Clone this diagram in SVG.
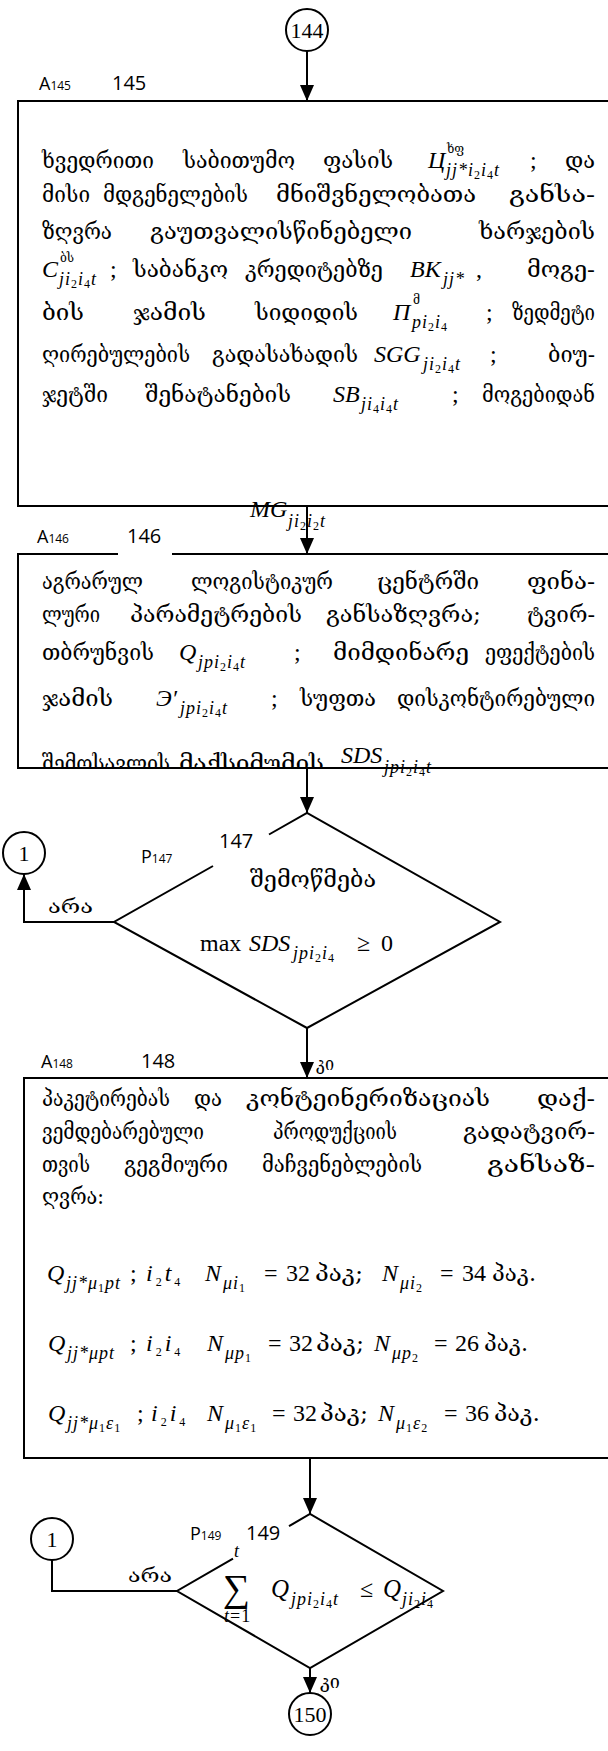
<svg xmlns="http://www.w3.org/2000/svg" width="608" height="1751" viewBox="0 0 608 1751">
<style>
.ln{fill:none;stroke:#000;stroke-width:2}
.g{font-family:"DejaVu Serif","DejaVu Sans",serif;font-size:22px;fill:#000}
.e{text-anchor:end}
.gs{font-family:"DejaVu Serif","DejaVu Sans",serif;font-size:19px;fill:#000}
.gx{font-family:"DejaVu Serif","DejaVu Sans",serif;font-size:12px;fill:#000}
.m{font-family:"Liberation Serif","Times New Roman",serif;font-style:italic;font-size:24px;fill:#000}
.r{font-family:"Liberation Serif","Times New Roman",serif;font-size:24px;fill:#000}
.s{font-family:"Liberation Serif","Times New Roman",serif;font-style:italic;font-size:18px;letter-spacing:1px;fill:#000}
.ss{font-size:12px;font-style:normal}
.lb{font-family:"Open Sans","Liberation Sans",sans-serif;font-size:20px;fill:#000}
.la{font-family:"Open Sans","Liberation Sans",sans-serif;font-size:18px;fill:#000}
.lbs{font-size:12px}
.cn{font-family:"Liberation Serif","Times New Roman",serif;font-size:22px;text-anchor:middle;fill:#000}
</style>
<defs>
<marker id="ah" viewBox="0 0 16 14" refX="16" refY="7" markerWidth="16" markerHeight="14" markerUnits="userSpaceOnUse" orient="auto"><path d="M0,0 L16,7 L0,14 z" fill="#000"/></marker>
<clipPath id="c146"><rect x="18" y="554" width="600" height="213"/></clipPath>
</defs>
<rect x="0" y="0" width="608" height="1751" fill="#fff"/>

<g id="connectors">
<path class="ln" d="M307,51 V101" marker-end="url(#ah)"/>
<path class="ln" d="M307,506 V554" marker-end="url(#ah)"/>
<path class="ln" d="M307,768 V813" marker-end="url(#ah)"/>
<path class="ln" d="M114,922 H24 V874" marker-end="url(#ah)"/>
<path class="ln" d="M307,1028 V1078" marker-end="url(#ah)"/>
<path class="ln" d="M310,1458 V1514" marker-end="url(#ah)"/>
<path class="ln" d="M177,1591 H52 V1560"/>
<path class="ln" d="M310,1668 V1693" marker-end="url(#ah)"/>
<text class="gs" x="48" y="913" textLength="45" lengthAdjust="spacingAndGlyphs">არა</text>
<text class="gs" x="316" y="1070" textLength="18" lengthAdjust="spacingAndGlyphs">კი</text>
<text class="gs" x="128" y="1582" textLength="44" lengthAdjust="spacingAndGlyphs">არა</text>
<text class="gs" x="320" y="1688" textLength="20" lengthAdjust="spacingAndGlyphs">კი</text>
</g>

<g id="n144">
<circle class="ln" cx="307" cy="30" r="21"/>
<text class="cn" x="307" y="38">144</text>
</g>

<g id="n145">
<text class="la" x="39" y="90">A<tspan class="lbs">145</tspan></text>
<text class="lb" x="112" y="90">145</text>
<rect class="ln" x="18" y="101" width="620" height="405"/>
<text class="g" x="42" y="168" textLength="112" lengthAdjust="spacingAndGlyphs">ხვედრითი</text>
<text class="g" x="183" y="168" textLength="112" lengthAdjust="spacingAndGlyphs">საბითუმო</text>
<text class="g" x="323" y="168" textLength="70" lengthAdjust="spacingAndGlyphs">ფასის</text>
<text class="m" x="428" y="168">Ц</text>
<text class="gx" x="447" y="153">ხფ</text>
<text class="s" x="446" y="176">jj*i<tspan class="ss" dy="3">2</tspan><tspan dy="-3">i</tspan><tspan class="ss" dy="3">4</tspan><tspan dy="-3">t</tspan></text>
<text class="r" x="530" y="168">;</text>
<text class="g e" x="595" y="168" textLength="30" lengthAdjust="spacingAndGlyphs">და</text>

<text class="g" x="42" y="202" textLength="48" lengthAdjust="spacingAndGlyphs">მისი</text>
<text class="g" x="103" y="202" textLength="145" lengthAdjust="spacingAndGlyphs">მდგენელების</text>
<text class="g" x="276" y="202" textLength="200" lengthAdjust="spacingAndGlyphs">მნიშვნელობათა</text>
<text class="g e" x="595" y="202" textLength="86" lengthAdjust="spacingAndGlyphs">განსა-</text>

<text class="g" x="42" y="239" textLength="70" lengthAdjust="spacingAndGlyphs">ზღვრა</text>
<text class="g" x="150" y="239" textLength="262" lengthAdjust="spacingAndGlyphs">გაუთვალისწინებელი</text>
<text class="g e" x="595" y="239" textLength="116" lengthAdjust="spacingAndGlyphs">ხარჯების</text>

<text class="m" x="42" y="277">C</text>
<text class="gx" x="60" y="262">ბს</text>
<text class="s" x="59" y="285">ji<tspan class="ss" dy="3">2</tspan><tspan dy="-3">i</tspan><tspan class="ss" dy="3">4</tspan><tspan dy="-3">t</tspan></text>
<text class="r" x="110" y="277">;</text>
<text class="g" x="133" y="277" textLength="95" lengthAdjust="spacingAndGlyphs">საბანკო</text>
<text class="g" x="245" y="277" textLength="138" lengthAdjust="spacingAndGlyphs">კრედიტებზე</text>
<text class="m" x="410" y="277">BK</text>
<text class="s" x="443" y="285">jj*</text>
<text class="r" x="476" y="277">,</text>
<text class="g e" x="595" y="277" textLength="68" lengthAdjust="spacingAndGlyphs">მოგე-</text>

<text class="g" x="42" y="320" textLength="42" lengthAdjust="spacingAndGlyphs">ბის</text>
<text class="g" x="133" y="320" textLength="73" lengthAdjust="spacingAndGlyphs">ჯამის</text>
<text class="g" x="255" y="320" textLength="103" lengthAdjust="spacingAndGlyphs">სიდიდის</text>
<text class="m" x="393" y="320">П</text>
<text class="gx" x="413" y="304">მ</text>
<text class="s" x="412" y="328">pi<tspan class="ss" dy="3">2</tspan><tspan dy="-3">i</tspan><tspan class="ss" dy="3">4</tspan></text>
<text class="r" x="486" y="320">;</text>
<text class="g e" x="595" y="320" textLength="83" lengthAdjust="spacingAndGlyphs">ზედმეტი</text>

<text class="g" x="42" y="362" textLength="148" lengthAdjust="spacingAndGlyphs">ღირებულების</text>
<text class="g" x="212" y="362" textLength="146" lengthAdjust="spacingAndGlyphs">გადასახადის</text>
<text class="m" x="374" y="362">SGG</text>
<text class="s" x="423" y="370">ji<tspan class="ss" dy="3">2</tspan><tspan dy="-3">i</tspan><tspan class="ss" dy="3">4</tspan><tspan dy="-3">t</tspan></text>
<text class="r" x="490" y="362">;</text>
<text class="g e" x="595" y="362" textLength="47" lengthAdjust="spacingAndGlyphs">ბიუ-</text>

<text class="g" x="42" y="402" textLength="66" lengthAdjust="spacingAndGlyphs">ჯეტში</text>
<text class="g" x="145" y="402" textLength="146" lengthAdjust="spacingAndGlyphs">შენატანების</text>
<text class="m" x="333" y="402">SB</text>
<text class="s" x="361" y="410">ji<tspan class="ss" dy="3">4</tspan><tspan dy="-3">i</tspan><tspan class="ss" dy="3">4</tspan><tspan dy="-3">t</tspan></text>
<text class="r" x="452" y="402">;</text>
<text class="g e" x="595" y="402" textLength="113" lengthAdjust="spacingAndGlyphs">მოგებიდან</text>

<text class="m" x="250" y="517">MG</text>
<text class="s" x="288" y="527">ji<tspan class="ss" dy="3">2</tspan><tspan dy="-3">i</tspan><tspan class="ss" dy="3">2</tspan><tspan dy="-3">t</tspan></text>
</g>

<g id="n146">
<text class="la" x="37" y="543">A<tspan class="lbs">146</tspan></text>
<text class="lb" x="127" y="543">146</text>
<path class="ln" d="M118,554 H18 V768 H620 M172,554 H620"/>
<text class="g" x="42" y="589" textLength="101" lengthAdjust="spacingAndGlyphs">აგრარულ</text>
<text class="g" x="191" y="589" textLength="142" lengthAdjust="spacingAndGlyphs">ლოგისტიკურ</text>
<text class="g" x="377" y="589" textLength="102" lengthAdjust="spacingAndGlyphs">ცენტრში</text>
<text class="g e" x="595" y="589" textLength="68" lengthAdjust="spacingAndGlyphs">ფინა-</text>

<text class="g" x="42" y="622" textLength="58" lengthAdjust="spacingAndGlyphs">ლური</text>
<text class="g" x="130" y="622" textLength="172" lengthAdjust="spacingAndGlyphs">პარამეტრების</text>
<text class="g" x="326" y="622" textLength="155" lengthAdjust="spacingAndGlyphs">განსაზღვრა;</text>
<text class="g e" x="595" y="622" textLength="68" lengthAdjust="spacingAndGlyphs">ტვირ-</text>

<text class="g" x="42" y="660" textLength="112" lengthAdjust="spacingAndGlyphs">თბრუნვის</text>
<text class="m" x="179" y="660">Q</text>
<text class="s" x="198" y="668">jpi<tspan class="ss" dy="3">2</tspan><tspan dy="-3">i</tspan><tspan class="ss" dy="3">4</tspan><tspan dy="-3">t</tspan></text>
<text class="r" x="294" y="660">;</text>
<text class="g" x="333" y="660" textLength="136" lengthAdjust="spacingAndGlyphs">მიმდინარე</text>
<text class="g e" x="595" y="660" textLength="110" lengthAdjust="spacingAndGlyphs">ეფექტების</text>

<text class="g" x="42" y="706" textLength="71" lengthAdjust="spacingAndGlyphs">ჯამის</text>
<text class="m" x="156" y="706">Э′</text>
<text class="s" x="180" y="714">jpi<tspan class="ss" dy="3">2</tspan><tspan dy="-3">i</tspan><tspan class="ss" dy="3">4</tspan><tspan dy="-3">t</tspan></text>
<text class="r" x="271" y="706">;</text>
<text class="g" x="300" y="706" textLength="76" lengthAdjust="spacingAndGlyphs">სუფთა</text>
<text class="g e" x="595" y="706" textLength="198" lengthAdjust="spacingAndGlyphs">დისკონტირებული</text>

<g clip-path="url(#c146)">
<text class="g" x="42" y="771" textLength="128" lengthAdjust="spacingAndGlyphs">შემოსავლის</text>
<text class="g" x="179" y="771" textLength="145" lengthAdjust="spacingAndGlyphs">მაქსიმუმის</text>
</g>
<text class="m" x="341" y="763">SDS</text>
<text class="s" x="384" y="773">jpi<tspan class="ss" dy="3">2</tspan><tspan dy="-3">i</tspan><tspan class="ss" dy="3">4</tspan><tspan dy="-3">t</tspan></text>
</g>

<g id="n147">
<path class="ln" d="M213,866 L114,922 L307,1028 L500,922 L307,813 L269,834.5"/>
<text class="lb" x="219" y="848">147</text>
<text class="la" x="141" y="863">P<tspan class="lbs">147</tspan></text>
<text class="g" x="250" y="887" textLength="126" lengthAdjust="spacingAndGlyphs">შემოწმება</text>
<text class="r" x="200" y="951">max</text>
<text class="m" x="249" y="951">SDS</text>
<text class="s" x="293" y="959">jpi<tspan class="ss" dy="3">2</tspan><tspan dy="-3">i</tspan><tspan class="ss" dy="3">4</tspan></text>
<text class="r" x="357" y="951">≥</text>
<text class="r" x="381" y="951">0</text>
</g>

<g id="c1a">
<circle class="ln" cx="24" cy="853" r="21"/>
<text class="cn" x="24" y="861">1</text>
</g>

<g id="n148">
<text class="la" x="41" y="1068">A<tspan class="lbs">148</tspan></text>
<text class="lb" x="141" y="1068">148</text>
<rect class="ln" x="24" y="1078" width="620" height="380"/>
<text class="g" x="42" y="1106" textLength="128" lengthAdjust="spacingAndGlyphs">პაკეტირებას</text>
<text class="g" x="194" y="1106" textLength="28" lengthAdjust="spacingAndGlyphs">და</text>
<text class="g" x="246" y="1106" textLength="244" lengthAdjust="spacingAndGlyphs">კონტეინერიზაციას</text>
<text class="g e" x="595" y="1106" textLength="58" lengthAdjust="spacingAndGlyphs">დაქ-</text>

<text class="g" x="42" y="1139" textLength="162" lengthAdjust="spacingAndGlyphs">ვემდებარებული</text>
<text class="g" x="273" y="1139" textLength="124" lengthAdjust="spacingAndGlyphs">პროდუქციის</text>
<text class="g e" x="595" y="1139" textLength="132" lengthAdjust="spacingAndGlyphs">გადატვირ-</text>

<text class="g" x="42" y="1172" textLength="48" lengthAdjust="spacingAndGlyphs">თვის</text>
<text class="g" x="124" y="1172" textLength="104" lengthAdjust="spacingAndGlyphs">გეგმიური</text>
<text class="g" x="262" y="1172" textLength="160" lengthAdjust="spacingAndGlyphs">მაჩვენებლების</text>
<text class="g e" x="595" y="1172" textLength="108" lengthAdjust="spacingAndGlyphs">განსაზ-</text>

<text class="g" x="42" y="1204" textLength="62" lengthAdjust="spacingAndGlyphs">ღვრა:</text>

<text class="m" x="47" y="1281">Q</text>
<text class="s" x="66" y="1289">jj*μ<tspan class="ss" dy="3">1</tspan><tspan dy="-3">pt</tspan></text>
<text class="r" x="130" y="1281">;</text>
<text class="m" x="146" y="1281" style="letter-spacing:3px">i<tspan class="ss" dy="5">2</tspan><tspan dy="-5">t</tspan><tspan class="ss" dy="5">4</tspan></text>
<text class="m" x="205" y="1281">N</text>
<text class="s" x="223" y="1289">μi<tspan class="ss" dy="3">1</tspan></text>
<text class="r" x="264" y="1281">=</text>
<text class="r" x="286" y="1281">32</text>
<text class="g" x="315" y="1281" textLength="48" lengthAdjust="spacingAndGlyphs">პაკ;</text>
<text class="m" x="382" y="1281">N</text>
<text class="s" x="400" y="1289">μi<tspan class="ss" dy="3">2</tspan></text>
<text class="r" x="440" y="1281">=</text>
<text class="r" x="462" y="1281">34</text>
<text class="g" x="492" y="1281" textLength="44" lengthAdjust="spacingAndGlyphs">პაკ.</text>

<text class="m" x="48" y="1351">Q</text>
<text class="s" x="67" y="1359">jj*μpt</text>
<text class="r" x="130" y="1351">;</text>
<text class="m" x="146" y="1351" style="letter-spacing:3px">i<tspan class="ss" dy="5">2</tspan><tspan dy="-5">i</tspan><tspan class="ss" dy="5">4</tspan></text>
<text class="m" x="207" y="1351">N</text>
<text class="s" x="225" y="1359">μp<tspan class="ss" dy="3">1</tspan></text>
<text class="r" x="268" y="1351">=</text>
<text class="r" x="289" y="1351">32</text>
<text class="g" x="316" y="1351" textLength="48" lengthAdjust="spacingAndGlyphs">პაკ;</text>
<text class="m" x="374" y="1351">N</text>
<text class="s" x="392" y="1359">μp<tspan class="ss" dy="3">2</tspan></text>
<text class="r" x="434" y="1351">=</text>
<text class="r" x="455" y="1351">26</text>
<text class="g" x="484" y="1351" textLength="44" lengthAdjust="spacingAndGlyphs">პაკ.</text>

<text class="m" x="48" y="1421">Q</text>
<text class="s" x="67" y="1429">jj*μ<tspan class="ss" dy="3">1</tspan><tspan dy="-3">ε</tspan><tspan class="ss" dy="3">1</tspan></text>
<text class="r" x="137" y="1421">;</text>
<text class="m" x="151" y="1421" style="letter-spacing:3px">i<tspan class="ss" dy="5">2</tspan><tspan dy="-5">i</tspan><tspan class="ss" dy="5">4</tspan></text>
<text class="m" x="207" y="1421">N</text>
<text class="s" x="225" y="1429">μ<tspan class="ss" dy="3">1</tspan><tspan dy="-3">ε</tspan><tspan class="ss" dy="3">1</tspan></text>
<text class="r" x="272" y="1421">=</text>
<text class="r" x="293" y="1421">32</text>
<text class="g" x="320" y="1421" textLength="48" lengthAdjust="spacingAndGlyphs">პაკ;</text>
<text class="m" x="378" y="1421">N</text>
<text class="s" x="396" y="1429">μ<tspan class="ss" dy="3">1</tspan><tspan dy="-3">ε</tspan><tspan class="ss" dy="3">2</tspan></text>
<text class="r" x="444" y="1421">=</text>
<text class="r" x="465" y="1421">36</text>
<text class="g" x="494" y="1421" textLength="46" lengthAdjust="spacingAndGlyphs">პაკ.</text>
</g>

<g id="n149">
<path class="ln" d="M233,1558.6 L177,1591 L310,1668 L443,1591 L310,1514 L289,1526.2"/>
<text class="la" x="190" y="1540">P<tspan class="lbs">149</tspan></text>
<text class="lb" x="246" y="1540">149</text>
<text class="r" x="223" y="1601" style="font-size:38px">∑</text>
<text class="s" x="234" y="1557">t</text>
<text class="s" x="224" y="1622">t<tspan style="font-style:normal">=1</tspan></text>
<text class="m" x="271" y="1597" style="font-size:25px">Q</text>
<text class="s" x="291" y="1605">jpi<tspan class="ss" dy="3">2</tspan><tspan dy="-3">i</tspan><tspan class="ss" dy="3">4</tspan><tspan dy="-3">t</tspan></text>
<text class="r" x="360" y="1597">≤</text>
<text class="m" x="383" y="1597" style="font-size:25px">Q</text>
<text class="s" x="402" y="1605">ji<tspan class="ss" dy="3">2</tspan><tspan dy="-3">i</tspan><tspan class="ss" dy="3">4</tspan></text>
</g>

<g id="c1b">
<circle class="ln" cx="52" cy="1539" r="21"/>
<text class="cn" x="52" y="1547">1</text>
</g>

<g id="n150">
<circle class="ln" cx="310" cy="1714" r="21"/>
<text class="cn" x="310" y="1722">150</text>
</g>
</svg>
